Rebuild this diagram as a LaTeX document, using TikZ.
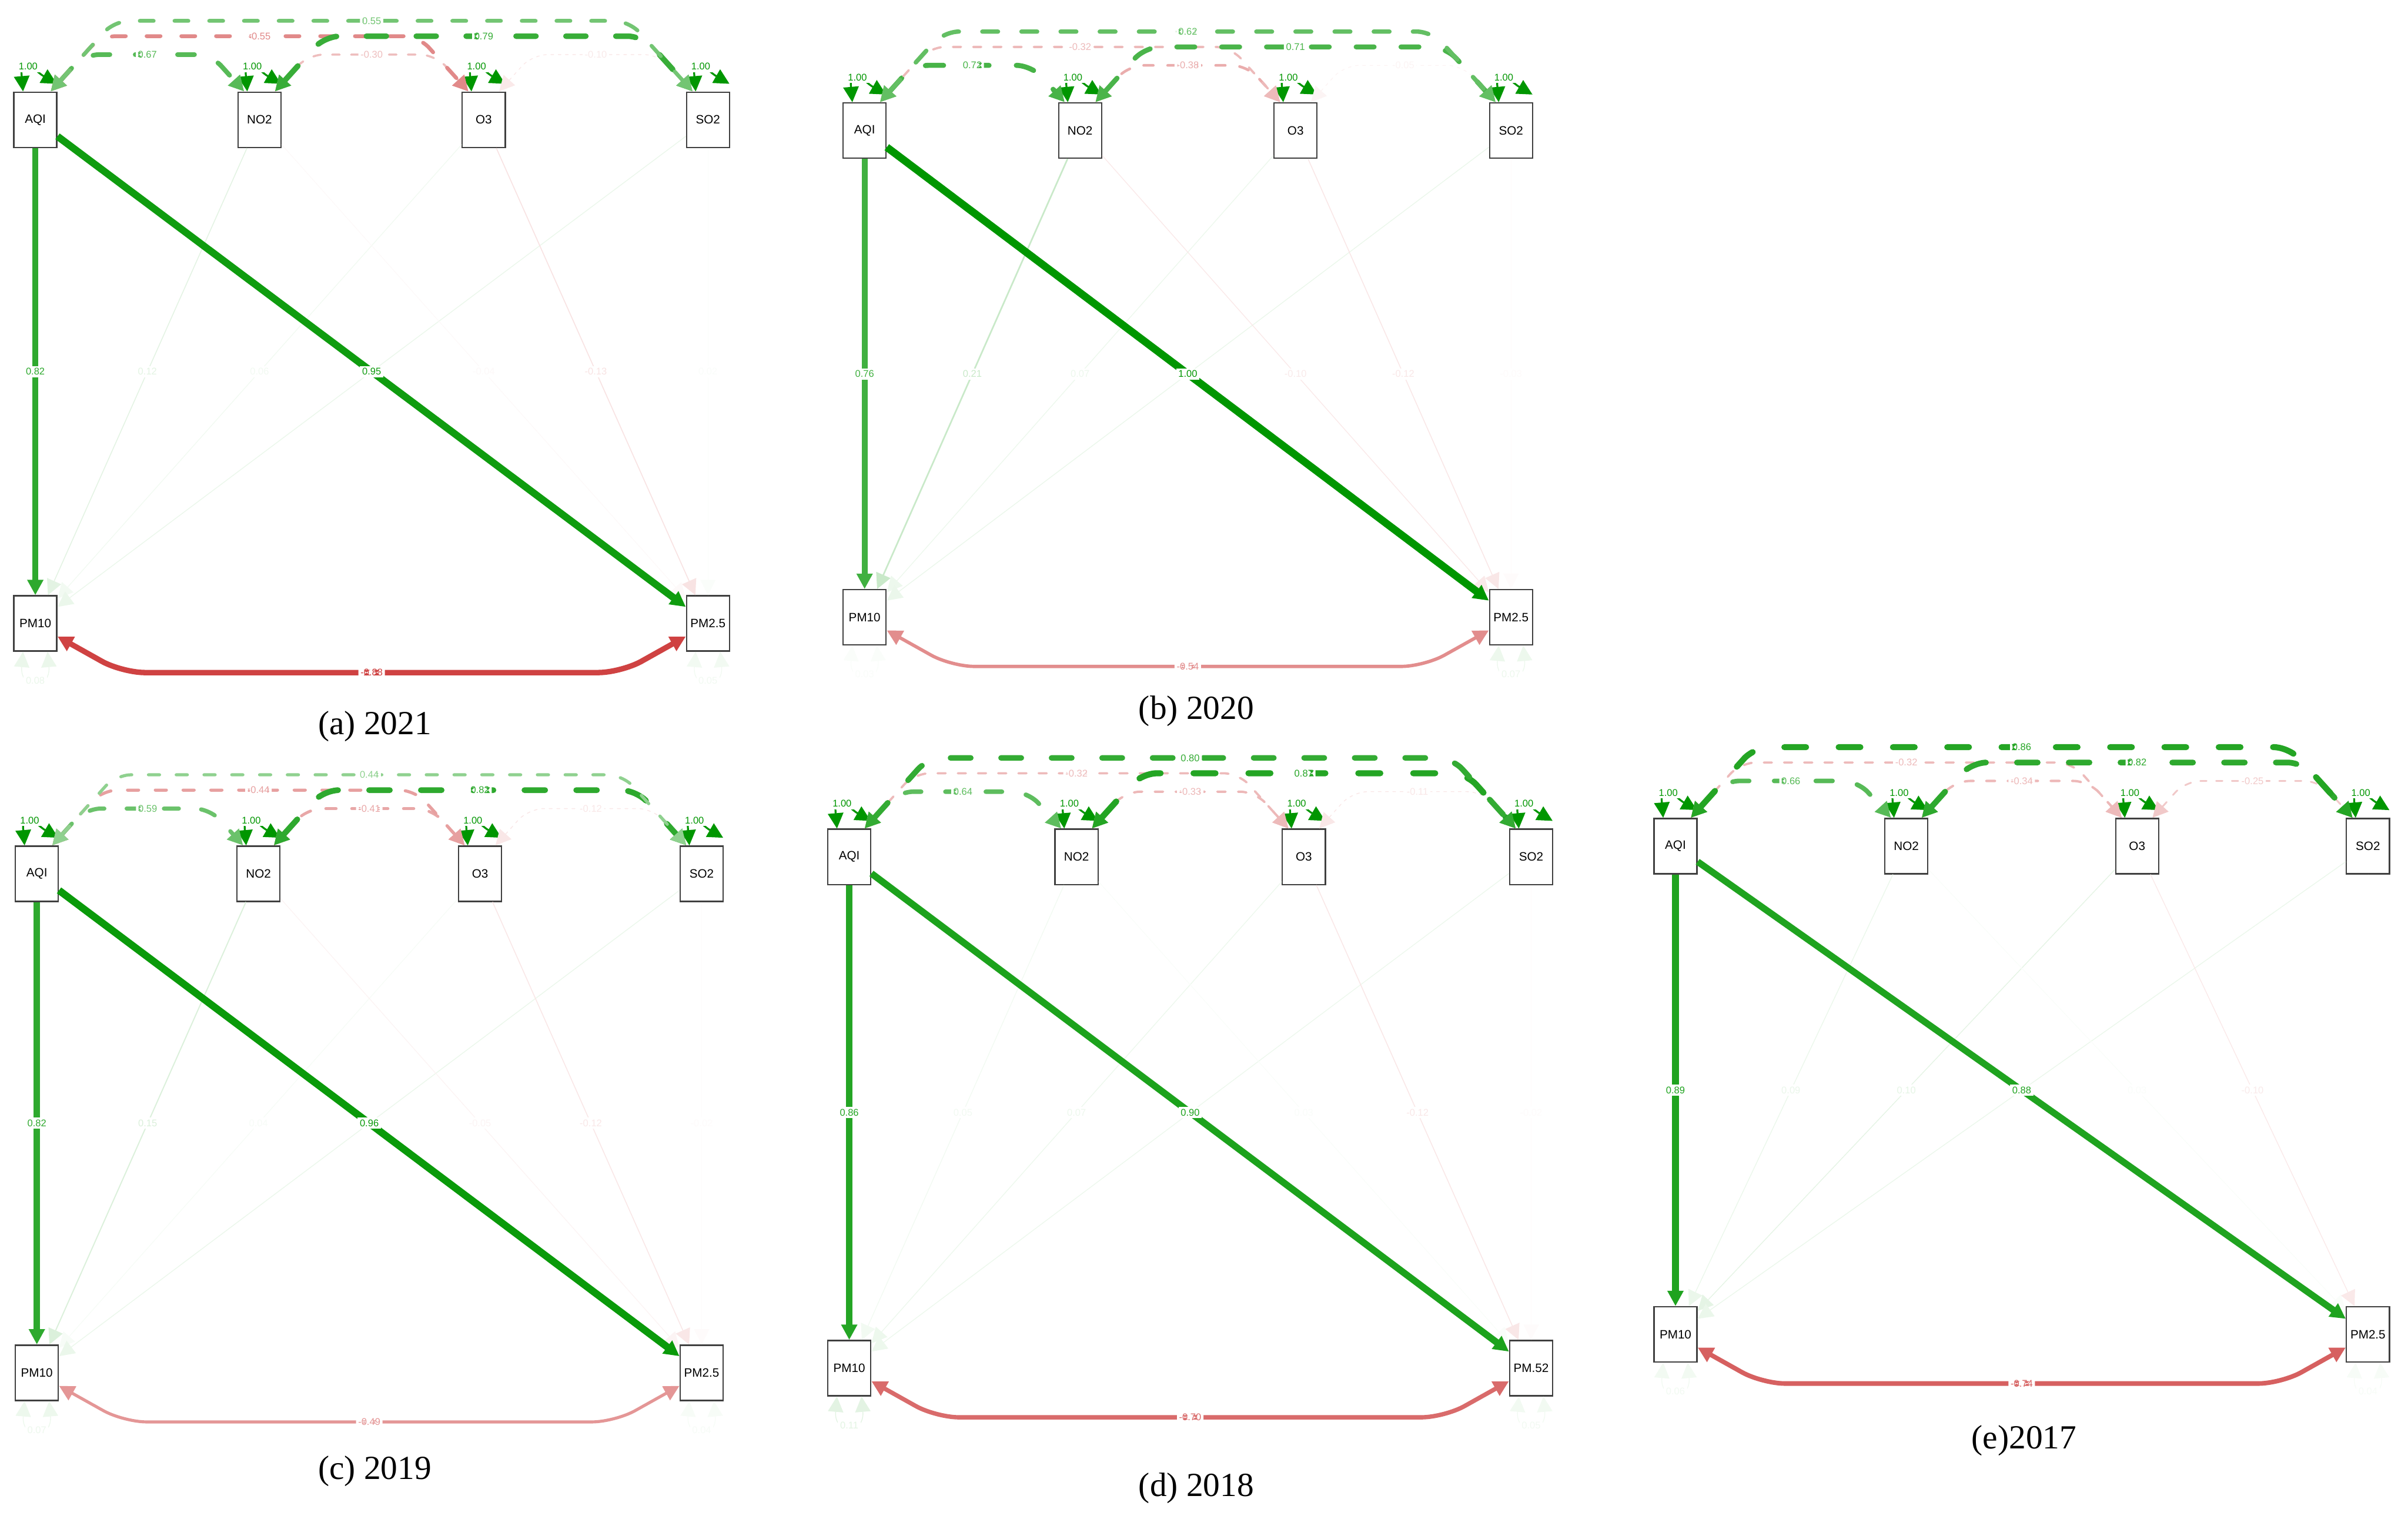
\documentclass[tikz,border=0pt]{standalone}
\usepackage{fontspec}
\setmainfont{Liberation Serif}
\setsansfont{Liberation Sans}
\usetikzlibrary{arrows.meta}

\definecolor{SemGreen}{RGB}{0,150,0}
\definecolor{SemRed}{RGB}{200,40,40}
\colorlet{wtcol}{black}

\tikzset{
  varbox/.style={draw=black!75, fill=white, line width=0.5pt,
    minimum width=0.56cm, minimum height=0.72cm, inner sep=0pt,
    font=\sffamily\fontsize{4.5}{5}\selectfont},
  elab/.style={fill=white, inner sep=0.8pt, text=wtcol,
    font=\sffamily\fontsize{3.6}{4}\selectfont},
  capnode/.style={font=\fontsize{12.5}{14}\selectfont},
  % colour and width of an edge from its weight: wt={weight}{width factor}
  wt/.code 2 args={%
    \pgfmathsetmacro\wabs{abs(#1)}%
    \pgfmathtruncatemacro\wpct{100*\wabs}%
    \pgfmathsetmacro\wlw{max(0.3,#2*\wabs)}%
    \ifdim #1pt<0pt \def\wcol{SemRed}\else\def\wcol{SemGreen}\fi
    \colorlet{wtcol}{\wcol!\wpct!white}%
    \tikzset{draw=wtcol, line width=\wlw pt}%
  },
  % dashes that grow with the line width
  dashy/.code={%
    \pgfmathsetmacro\won{3.6*\wlw}%
    \pgfmathsetmacro\woff{5.4*\wlw}%
    \tikzset{line cap=round, dash pattern=on \won pt off \woff pt}%
  },
}

% #1 prefix, #2 AQI centre, #3 column gap, #4 row gap, #5 PM2.5 text,
% #6 covariances, #7 regressions, #8 PM10-PM2.5 covariance, #9 residuals
\newcommand{\sempanel}[9]{%
  \begin{scope}[shift={#2}]
    % variables
    \node[varbox] (#1AQI) at (0,0) {AQI};
    \node[varbox] (#1NO2) at (#3,0) {NO2};
    \node[varbox] (#1O3) at (2*#3,0) {O3};
    \node[varbox] (#1SO2) at (3*#3,0) {SO2};
    \node[varbox] (#1PM10) at (0,#4) {PM10};
    \node[varbox] (#1PM25) at (3*#3,#4) {#5};

    % variances of the exogenous variables
    \foreach \n in {AQI,NO2,O3,SO2}
      \draw[wt={1.00}{0.7}, <->] ([xshift=-0.16cm]#1\n.north)
        .. controls +(95:0.55cm) and +(150:0.35cm) .. node[elab, pos=0.45] {1.00}
        ([xshift=0.28cm, yshift=0.1cm]#1\n.north);

    % covariances (dashed, above)
    \foreach \v [count=\i] in {#6} {
      \ifcase\i\or
        \def\pa{AQI}\def\pb{NO2}\def\h{24}\or
        \def\pa{NO2}\def\pb{O3}\def\h{24}\or
        \def\pa{O3}\def\pb{SO2}\def\h{24}\or
        \def\pa{AQI}\def\pb{O3}\def\h{36}\or
        \def\pa{NO2}\def\pb{SO2}\def\h{36}\or
        \def\pa{AQI}\def\pb{SO2}\def\h{46}\fi
      \draw[wt={\v}{2.6}, dashy, <->, rounded corners=0.2cm]
        ([xshift=0.2cm]#1\pa.north)
        -- ([xshift=0.2cm+0.9*\h*0.02cm, yshift=\h*0.02cm]#1\pa.north)
        -- node[elab] {\v} ([xshift=-0.2cm-0.9*\h*0.02cm, yshift=\h*0.02cm]#1\pb.north)
        -- ([xshift=-0.2cm]#1\pb.north);
    }

    % regressions, faint ones first
    \foreach \v [count=\i] in {#7} {
      \ifcase\i\or
        \def\pa{NO2}\def\pb{PM10}\def\lop{1}\or
        \def\pa{O3}\def\pb{PM10}\def\lop{1}\or
        \def\pa{SO2}\def\pb{PM10}\def\lop{0}\or
        \def\pa{NO2}\def\pb{PM25}\def\lop{1}\or
        \def\pa{O3}\def\pb{PM25}\def\lop{1}\or
        \def\pa{SO2}\def\pb{PM25}\def\lop{1}\or
        \def\pa{AQI}\def\pb{PM10}\def\lop{1}\or
        \def\pa{AQI}\def\pb{PM25}\def\lop{1}\fi
      \draw[wt={\v}{2.8}, ->] (#1\pa) -- node[elab, opacity=\lop] {\v} (#1\pb);
    }

    % residuals of PM10 and PM2.5
    \foreach \r [count=\i] in {#9} {
      \ifnum\i=1 \def\n{PM10}\else\def\n{PM25}\fi
      \draw[wt={\r}{0.7}, <->] ([xshift=-0.16cm]#1\n.south)
        .. controls +(-95:0.5cm) and +(-85:0.5cm) .. node[elab] {\r}
        ([xshift=0.16cm]#1\n.south);
    }

    % covariance of PM10 and PM2.5
    \draw[wt={#8}{2.3}, <->, rounded corners=0.3cm]
      ([yshift=-0.17cm]#1PM10.east)
      -- ([xshift=0.84cm, yshift=-0.64cm]#1PM10.east)
      -- node[elab] {#8} ([xshift=-0.84cm, yshift=-0.64cm]#1PM25.west)
      -- ([yshift=-0.17cm]#1PM25.west);
  \end{scope}
}

\begin{document}
\begin{tikzpicture}[x=0.02cm, y=-0.02cm, >={Triangle[length=0.2cm, width=0.2cm]}]
  \useasboundingbox (0,0) rectangle (1568,987);

  % (a) 2021
  \sempanel{a}{(23,78)}{146}{328}{PM2.5}
    {0.67,-0.30,-0.10,-0.55,0.79,0.55}
    {0.12,0.06,0.08,-0.04,-0.13,0.02,0.82,0.95}
    {-0.88}{0.08,0.05}
  \node[capnode] (capa) at (244,473) {(a) 2021};

  % (b) 2020
  \sempanel{b}{(563,85)}{140.3}{317}{PM2.5}
    {0.72,-0.38,-0.05,-0.32,0.71,0.62}
    {0.21,0.07,0.09,-0.10,-0.12,-0.03,0.76,1.00}
    {-0.54}{0.03,0.07}
  \node[capnode] (capb) at (779,463) {(b) 2020};

  % (c) 2019
  \sempanel{c}{(24,569)}{144.3}{325}{PM2.5}
    {0.59,-0.41,-0.12,-0.44,0.82,0.44}
    {0.15,0.04,0.08,-0.05,-0.12,-0.02,0.82,0.96}
    {-0.49}{0.07,0.04}
  \node[capnode] (capc) at (244,958) {(c) 2019};

  % (d) 2018
  \sempanel{d}{(553,558)}{148}{333}{PM.52}
    {0.64,-0.33,-0.11,-0.32,0.87,0.80}
    {0.05,0.07,0.07,0.03,-0.12,-0.02,0.86,0.90}
    {-0.70}{0.11,0.05}
  \node[capnode] (capd) at (779,969) {(d) 2018};

  % (e) 2017
  \sempanel{e}{(1091,551)}{150.3}{318}{PM2.5}
    {0.66,-0.34,-0.25,-0.32,0.82,0.86}
    {0.09,0.10,0.08,0.03,-0.10,0.01,0.89,0.88}
    {-0.74}{0.06,0.04}
  \node[capnode] (cape) at (1318,938) {(e)2017};
\end{tikzpicture}
\end{document}
